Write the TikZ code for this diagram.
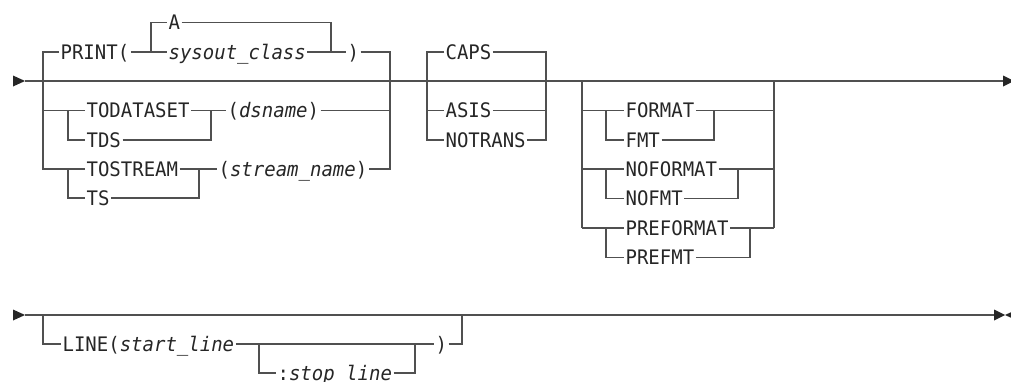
\documentclass[tikz,border=0pt]{standalone}
\usepackage{fontspec}
\setmonofont{DejaVu Sans Mono}[FakeStretch=0.95]
\definecolor{rail}{HTML}{505050}
\definecolor{ink}{HTML}{262626}
\tikzset{line width=.8pt,
  track/.style={draw=rail,line width=.8pt},
  tipmark/.style={fill=ink},
  kw/.style={anchor=west,inner xsep=1pt,inner ysep=0pt,text=ink,text height=10.9pt,text depth=0pt,
    font=\ttfamily\fontsize{15}{18}\selectfont},
  var/.style={kw,font=\ttfamily\itshape\fontsize{15}{18}\selectfont}}

\begin{document}
\begin{tikzpicture}[x=.75pt,y=-.75pt]
\useasboundingbox (0,0) rectangle (1011,382);
% first line
\coordinate (s1) at (25,81);\coordinate (e1) at (1003,81);
\draw[track] (s1)--(e1);
\fill[tipmark] (13,75.5)--(s1)--(13,86.5)--cycle;\fill[tipmark] (e1)++(0,-5.5)--++(11,5.5)--++(-11,5.5)--cycle;
% PRINT / TODATASET / TOSTREAM
\node[kw] (print) at (59,52) {PRINT(};
\node[kw] (dflta) at (167,22.5) {A};
\node[var] (sysout) at (167,52) {sysout\_class};
\node[kw] (pclose) at (346,52) {)};
\node[kw] (todataset) at (85,110.5) {TODATASET};
\node[kw] (tds) at (85,140) {TDS};
\node[kw] (dsname) at (226,110.5) {(\textit{dsname})};
\node[kw] (tostream) at (85,169) {TOSTREAM};
\node[kw] (ts) at (85,198) {TS};
\node[kw] (streamname) at (217,169) {(\textit{stream\_name})};
\draw[track] (print.west)-|(43,169)--(tostream.west);\draw[track] (43,110.5)--(todataset.west);
\draw[track] (print.east)--(151,52)|-(dflta.west);\draw[track] (151,52)--(sysout.west);
\draw[track] (dflta.east)-|(331,52)--(sysout.east);\draw[track] (331,52)--(pclose.west);
\draw[track] (pclose.east)-|(390,169)--(streamname.east);\draw[track] (dsname.east)--(390,110.5);
\draw[track] (68,110.5)|-(tds.west);\draw[track] (tds.east)-|(211,110.5);\draw[track] (todataset.east)--(dsname.west);
\draw[track] (68,169)|-(ts.west);\draw[track] (ts.east)-|(199,169);\draw[track] (tostream.east)--(streamname.west);
% CAPS / ASIS / NOTRANS
\node[kw] (caps) at (444,52) {CAPS};
\node[kw] (asis) at (444,110.5) {ASIS};
\node[kw] (notrans) at (444,140) {NOTRANS};
\draw[track] (caps.west)-|(427,140)--(notrans.west);\draw[track] (427,110.5)--(asis.west);
\draw[track] (caps.east)-|(546,140)--(notrans.east);\draw[track] (asis.east)--(546,110.5);
% FORMAT group
\foreach \lname/\sname/\ltxt/\stxt/\y/\xr in {fmtl/fmts/FORMAT/FMT/110.5/714,
    nofmtl/nofmts/NOFORMAT/NOFMT/169/738,prefmtl/prefmts/PREFORMAT/PREFMT/228/750}{
  \node[kw] (\lname) at (624,\y) {\ltxt};\node[kw] (\sname) at (624,\y+29.5) {\stxt};
  \draw[track] (582,\y)--(\lname.west);\draw[track] (606,\y)|-(\sname.west);
  \draw[track] (\sname.east)-|(\xr,\y);\draw[track] (\lname.east)--(774,\y);}
\draw[track] (582,81)--(582,228);\draw[track] (774,81)--(774,228);
% second line
\coordinate (s2) at (25,315);\coordinate (e2) at (994,315);
\draw[track] (s2)--(e2);
\fill[tipmark] (13,309.5)--(s2)--(13,320.5)--cycle;
\fill[tipmark] (e2)++(0,-5.5)--++(11,5.5)--++(-11,5.5)--cycle;\fill[tipmark] (1017,309.5)--(1005,315)--(1017,320.5)--cycle;
\node[kw] (line) at (61,344) {LINE(\textit{start\_line}};
\node[kw] (lclose) at (434,344) {)};
\node[kw] (stop) at (276,373) {:\textit{stop\_line}};
\draw[track] (43,315)|-(line.west);\draw[track] (line.east)--(lclose.west);
\draw[track] (259,344)|-(stop.west);\draw[track] (stop.east)-|(415,344);
\draw[track] (lclose.east)-|(462,315);
\end{tikzpicture}
\end{document}
